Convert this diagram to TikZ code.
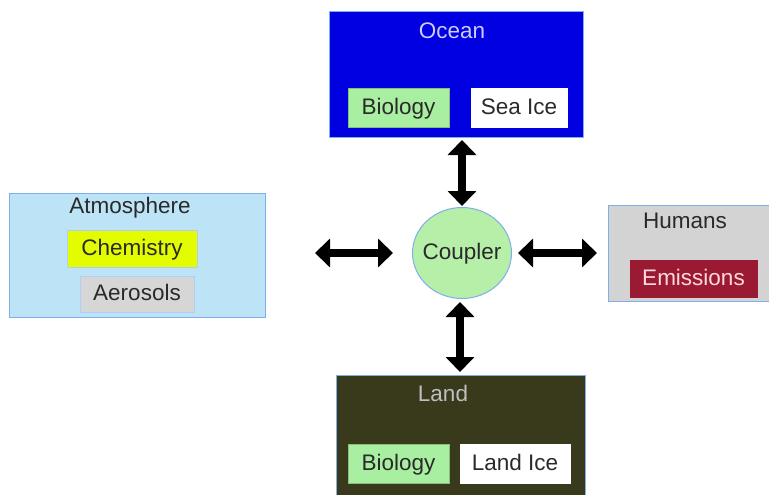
\documentclass[tikz,border=0pt]{standalone}
\usepackage{fontspec}
\setmainfont{Liberation Sans}
\usetikzlibrary{arrows.meta,shapes.geometric}
\definecolor{oceanblue}{HTML}{0000E0}
\definecolor{edgeblue}{HTML}{7FAEEA}
\definecolor{atmoblue}{HTML}{BDE4F6}
\definecolor{biogreen}{HTML}{A9EFA2}
\definecolor{chemyellow}{HTML}{E4FC00}
\definecolor{aerogray}{HTML}{D6D6D6}
\definecolor{humangray}{HTML}{D3D3D3}
\definecolor{emisred}{HTML}{9A1A33}
\definecolor{landolive}{HTML}{393A1C}
\definecolor{coupgreen}{HTML}{B5EFA8}
\definecolor{txtgray}{HTML}{2A2A2A}
\tikzset{
  x=1pt, y=-1pt,
  bigbox/.style={draw=edgeblue, line width=1pt},
  inbox/.style={line width=0.6pt},
  lbl/.style={font=\fontsize{22.5}{26}\selectfont, text=txtgray, text height=17pt, text depth=3.5pt, inner sep=0pt},
  dbl/.style={line width=8.5pt, {Triangle[length=15pt,width=28pt]}-{Triangle[length=15pt,width=28pt]}},
}
\begin{document}
\begin{tikzpicture}
\useasboundingbox (0,0) rectangle (769,495);
% Ocean
\filldraw[bigbox, fill=oceanblue] (329,12) rectangle (583,137);
\node[lbl, text=white!80!blue] (ocean) at (452,32) {Ocean};
\filldraw[inbox, draw=biogreen!80!black, fill=biogreen] (348,88) rectangle (449,127);
\node[lbl] (obio) at (398.5,107.5) {Biology};
\filldraw[inbox, draw=white, fill=white] (471,88) rectangle (567,127);
\node[lbl] (seaice) at (519,107.5) {Sea Ice};
% Atmosphere
\filldraw[bigbox, fill=atmoblue] (9,193) rectangle (265,317);
\node[lbl] (atmo) at (130,207) {Atmosphere};
\filldraw[inbox, draw=edgeblue!60, fill=chemyellow] (67,230) rectangle (197,267);
\node[lbl] (chem) at (132,248.5) {Chemistry};
\filldraw[inbox, draw=edgeblue!60, fill=aerogray] (80,276) rectangle (194,312);
\node[lbl] (aero) at (137,294) {Aerosols};
% Humans
\filldraw[bigbox, fill=humangray] (608,205) rectangle (772,301);
\node[lbl] (humans) at (685,222) {Humans};
\filldraw[inbox, draw=emisred, fill=emisred] (630,260) rectangle (757,297);
\node[lbl, text=white!85!red] (emis) at (693.5,278.5) {Emissions};
% Land
\filldraw[bigbox, fill=landolive] (336,375) rectangle (585,498);
\node[lbl, text=white!75!black] (land) at (443,395) {Land};
\filldraw[inbox, draw=biogreen!80!black, fill=biogreen] (348,444) rectangle (449,483);
\node[lbl] (lbio) at (398.5,463.5) {Biology};
\filldraw[inbox, draw=white, fill=white] (460,444) rectangle (570,483);
\node[lbl] (landice) at (515,463.5) {Land Ice};
% Coupler
\node[draw=edgeblue, line width=1pt, fill=coupgreen, ellipse, minimum width=99pt, minimum height=91pt, inner sep=0pt, label={[lbl]center:Coupler}] (coupler) at (462,253) {};
% Arrows
\coordinate (tA) at (462,140);
\coordinate (tB) at (462,206);
\coordinate (lA) at (315,253);
\coordinate (lB) at (393,253);
\coordinate (rA) at (518,253);
\coordinate (rB) at (597,253);
\coordinate (bA) at (460,302);
\coordinate (bB) at (460,372);
\draw[dbl] (tA) -- (tB);
\draw[dbl] (lA) -- (lB);
\draw[dbl] (rA) -- (rB);
\draw[dbl] (bA) -- (bB);
\end{tikzpicture}
\end{document}
